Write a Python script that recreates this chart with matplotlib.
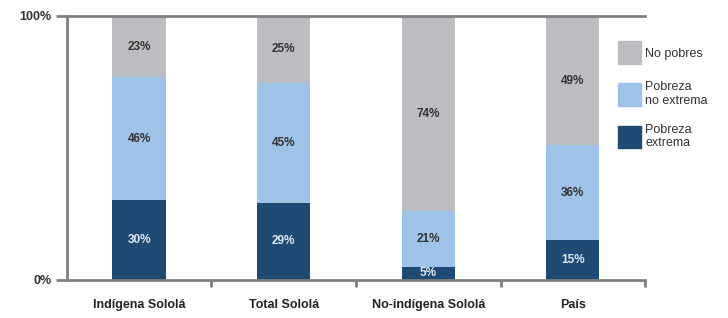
import numpy as np
import matplotlib
matplotlib.use('Agg')
import matplotlib.pyplot as plt
from matplotlib.patches import Patch

plt.rcParams['font.family'] = ['Liberation Sans Narrow', 'Liberation Sans', 'DejaVu Sans']

categories = ['Indígena Sololá', 'Total Sololá', 'No-indígena Sololá', 'País']
extrema = [30, 29, 5, 15]
no_extrema = [46, 45, 21, 36]
no_pobres = [23, 25, 74, 49]

c_ext = '#1f4a74'
c_noext = '#9fc3e8'
c_nopob = '#bcbdc0'

fig = plt.figure(figsize=(7.28, 3.18), dpi=100)
ax = fig.add_axes([0.092, 0.1195, 0.794, 0.8302])

x = np.arange(len(categories))
tot = np.array(extrema) + np.array(no_extrema) + np.array(no_pobres)
e = np.array(extrema) / tot * 100
n = np.array(no_extrema) / tot * 100
p = np.array(no_pobres) / tot * 100

w = 0.37
ax.bar(x, e, w, color=c_ext)
ax.bar(x, n, w, bottom=e, color=c_noext)
ax.bar(x, p, w, bottom=e + n, color=c_nopob)

for i in range(len(x)):
    ax.text(x[i], e[i] / 2, f'{extrema[i]}%', ha='center', va='center',
            fontsize=8.5, fontweight='bold', color='#dde8f2')
    ax.text(x[i], e[i] + n[i] / 2, f'{no_extrema[i]}%', ha='center', va='center',
            fontsize=8.5, fontweight='bold', color='#333333')
    ax.text(x[i], e[i] + n[i] + p[i] / 2, f'{no_pobres[i]}%', ha='center', va='center',
            fontsize=8.5, fontweight='bold', color='#333333')

ax.set_xlim(-0.5, len(categories) - 0.5)
ax.set_ylim(0, 100)
ax.set_yticks([0, 100])
ax.set_yticklabels(['0%', '100%'], fontsize=9, fontweight='bold', color='#333333')
ax.set_xticks(x)
ax.set_xticklabels(categories, fontsize=9, fontweight='bold', color='#222222')
ax.tick_params(axis='x', length=0, pad=14)
ax.set_xticks(np.arange(len(categories)) + 0.5, minor=True)
ax.tick_params(axis='x', which='minor', length=5, width=2, color='#808080')
ax.tick_params(axis='y', length=8, width=2, color='#808080', pad=3)

for s in ['left', 'bottom', 'top']:
    ax.spines[s].set_color('#808080')
    ax.spines[s].set_linewidth(2)
ax.spines['right'].set_visible(False)

handles = [Patch(color=c_nopob, label='No pobres'),
           Patch(color=c_noext, label='Pobreza\nno extrema'),
           Patch(color=c_ext, label='Pobreza\nextrema')]
fig.legend(handles=handles, loc='upper left', bbox_to_anchor=(0.833, 0.905),
           frameon=False, fontsize=9, handlelength=1.9, handleheight=2.4,
           labelspacing=1.35, handletextpad=0.3, labelcolor='#333333')

fig.savefig('out.png', dpi=100)
